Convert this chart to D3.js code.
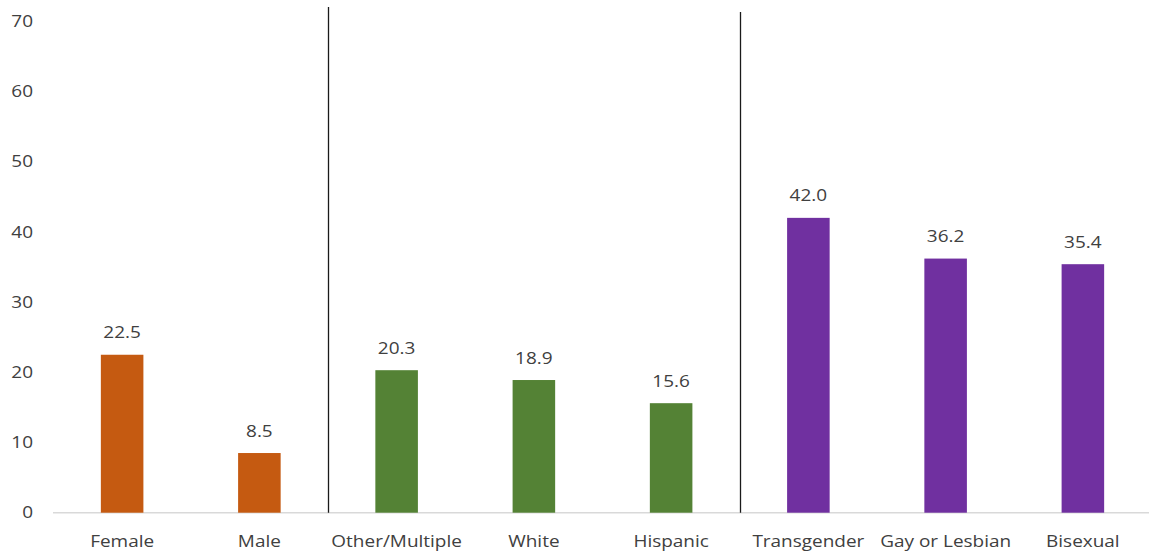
<!DOCTYPE html>
<html>
<head>
<meta charset="utf-8">
<script src="https://cdn.jsdelivr.net/npm/d3@7"></script>
<style>
  html, body { margin: 0; padding: 0; background: #fff; }
  svg text { font-family: "Open Sans", Lato, sans-serif; }
</style>
</head>
<body>
<svg id="chart" width="1149" height="554"></svg>
<script>
// Categories grouped by sex, race/ethnicity and sexual identity
const categories = ["Female", "Male", "Other/Multiple", "White", "Hispanic", "Transgender", "Gay or Lesbian", "Bisexual"];
const values = [22.5, 8.5, 20.3, 18.9, 15.6, 42.0, 36.2, 35.4];
const groups = ["sex", "sex", "race", "race", "race", "identity", "identity", "identity"];
const groupColors = { sex: "#C55A11", race: "#548235", identity: "#7030A0" };
const yTicks = [0, 10, 20, 30, 40, 50, 60, 70];
// Group boundaries: separator drawn before these categories
const separatorsBefore = ["Other/Multiple", "Transgender"];

const svg = d3.select("#chart");
const width = 1149, height = 554;
const plotLeft = 53.5, plotRight = 1151.5, plotTop = 21.3, plotBottom = 512.7;

// Labels use a slightly widened face
const fontSize = "16.5px";
const stretch = "scale(1.15,1)";
const textColor = "#404040";

const x = d3.scaleBand()
  .domain(categories)
  .range([plotLeft, plotRight])
  .paddingInner(0.69)
  .paddingOuter(0.345);

const y = d3.scaleLinear()
  .domain([0, 70])
  .range([plotBottom, plotTop]);

// Y axis labels
const yAxis = svg.append("g")
  .attr("transform", "translate(33,0)")
  .call(d3.axisLeft(y).tickValues(yTicks).tickSize(0).tickPadding(0));
yAxis.select(".domain").remove();
yAxis.selectAll("text")
  .attr("x", 0)
  .attr("transform", stretch)
  .attr("fill", textColor)
  .style("font-size", fontSize);

// Baseline
svg.append("line")
  .attr("x1", 53).attr("x2", width)
  .attr("y1", y(0)).attr("y2", y(0))
  .attr("stroke", "#d9d9d9").attr("stroke-width", 1.5);

// Group separators
separatorsBefore.forEach((c, i) => {
  const xs = Math.round(x(c) - (x.step() - x.bandwidth()) / 2) + 0.5;
  svg.append("line")
    .attr("x1", xs).attr("x2", xs)
    .attr("y1", i === 0 ? 7 : 12).attr("y2", y(0))
    .attr("stroke", "#1a1a1a").attr("stroke-width", 1.3);
});

// Bars
svg.append("g").selectAll("rect")
  .data(categories)
  .join("rect")
  .attr("x", d => x(d))
  .attr("width", x.bandwidth())
  .attr("y", (d, i) => y(values[i]))
  .attr("height", (d, i) => y(0) - y(values[i]))
  .attr("fill", (d, i) => groupColors[groups[i]]);

// Value labels
svg.append("g").selectAll("text")
  .data(categories)
  .join("text")
  .attr("transform", (d, i) =>
    `translate(${x(d) + x.bandwidth() / 2},${y(values[i]) - 16.5}) ${stretch}`)
  .attr("text-anchor", "middle")
  .attr("fill", textColor)
  .style("font-size", fontSize)
  .text((d, i) => values[i].toFixed(1));

// Category labels
const xAxis = svg.append("g")
  .attr("transform", `translate(0,${y(0)})`)
  .call(d3.axisBottom(x).tickSize(0));
xAxis.select(".domain").remove();
xAxis.selectAll("text")
  .attr("y", 34)
  .attr("dy", null)
  .attr("transform", stretch)
  .attr("fill", textColor)
  .style("font-size", fontSize);
</script>
</body>
</html>
